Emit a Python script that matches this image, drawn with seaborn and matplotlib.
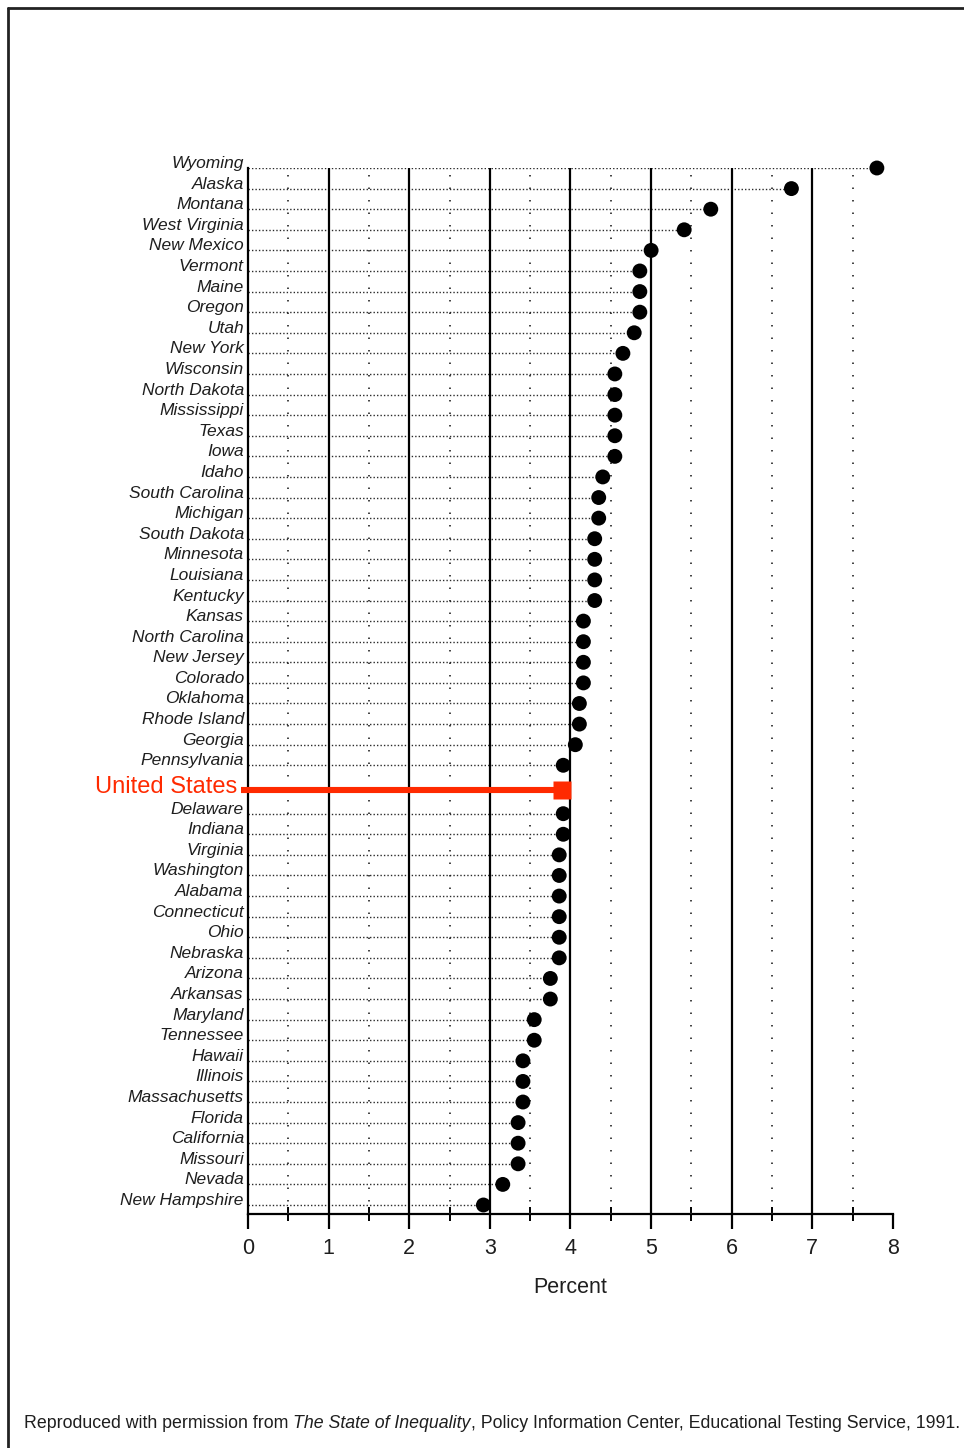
import numpy as np
import pandas as pd
import seaborn as sns
import matplotlib.pyplot as plt
from matplotlib.lines import Line2D
from matplotlib.ticker import MultipleLocator
from matplotlib.transforms import ScaledTranslation

##############################################################################
# Data (percent)
##############################################################################
STATES_ABOVE = [
    "Wyoming", "Alaska", "Montana", "West Virginia", "New Mexico", "Vermont",
    "Maine", "Oregon", "Utah", "New York", "Wisconsin", "North Dakota",
    "Mississippi", "Texas", "Iowa", "Idaho", "South Carolina", "Michigan",
    "South Dakota", "Minnesota", "Louisiana", "Kentucky", "Kansas",
    "North Carolina", "New Jersey", "Colorado", "Oklahoma", "Rhode Island",
    "Georgia", "Pennsylvania",
]
PCT_ABOVE = [
    7.80, 6.74, 5.74, 5.41, 5.00, 4.86,
    4.86, 4.86, 4.79, 4.65, 4.55, 4.55,
    4.55, 4.55, 4.55, 4.40, 4.35, 4.35,
    4.30, 4.30, 4.30, 4.30, 4.16,
    4.16, 4.16, 4.16, 4.11, 4.11,
    4.06, 3.91,
]
STATES_BELOW = [
    "Delaware", "Indiana", "Virginia", "Washington", "Alabama", "Connecticut",
    "Ohio", "Nebraska", "Arizona", "Arkansas", "Maryland", "Tennessee",
    "Hawaii", "Illinois", "Massachusetts", "Florida", "California",
    "Missouri", "Nevada", "New Hampshire",
]
PCT_BELOW = [
    3.91, 3.91, 3.86, 3.86, 3.86, 3.86,
    3.86, 3.86, 3.75, 3.75, 3.55, 3.55,
    3.41, 3.41, 3.41, 3.35, 3.35,
    3.35, 3.16, 2.92,
]
US_LABEL = "United States"
US_PCT = 3.9
X_TICKS = [0, 1, 2, 3, 4, 5, 6, 7, 8]

##############################################################################
# Layout
##############################################################################
W, H = 964, 1448
US_GAP = 0.35            # extra room around the US row
RED = "#ff2a00"
INK = "#1e1e1e"

pos_above = np.arange(len(STATES_ABOVE), dtype=float)
us_pos = pos_above[-1] + 1 + US_GAP * 0.6
pos_below = pos_above[-1] + 2 + US_GAP + np.arange(len(STATES_BELOW))

df = pd.DataFrame({
    "state": STATES_ABOVE + STATES_BELOW,
    "pct": PCT_ABOVE + PCT_BELOW,
    "pos": np.concatenate([pos_above, pos_below]),
})

sns.set_style("white")
plt.rcParams["font.family"] = ["Liberation Sans", "DejaVu Sans"]

fig = plt.figure(figsize=(W / 100, H / 100), dpi=100)
ax = fig.add_axes([248 / W, 1 - 1214 / H, (893 - 248) / W, (1214 - 168) / H])

# leader lines
ax.hlines(df["pos"], 0, df["pct"], color="#2a2a2a", lw=1.0,
          linestyles=[(0, (1.0, 1.5))], zorder=2)

# grid: solid at integers, sparse dots at halves
for v in X_TICKS[1:-1]:
    ax.axvline(v, color="black", lw=1.6, zorder=3)
for v in np.arange(0.5, 8, 1.0):
    ax.axvline(v, color="#222222", lw=1.2, ls=(0, (0.9, 6.6)), zorder=3)

sns.scatterplot(data=df, x="pct", y="pos", s=115, color="black",
                edgecolor="none", ax=ax, zorder=5, clip_on=False, legend=False)

# United States bar
ax.plot([-0.09, US_PCT], [us_pos, us_pos], color=RED, lw=4.4,
        solid_capstyle="butt", clip_on=False, zorder=6)
ax.plot([US_PCT], [us_pos], marker="s", ms=12.5, color=RED, mec="none",
        clip_on=False, zorder=6)
ax.text(-0.13, us_pos, US_LABEL, color=RED, fontsize=17, ha="right",
        va="center", clip_on=False,
        transform=ax.transData + ScaledTranslation(0, 3 / 100,
                                                   fig.dpi_scale_trans))

ax.set_xlim(0, 8)
ax.set_ylim(df["pos"].max() + 9 / 20.6, 0)
ax.set_yticks(df["pos"], df["state"])
ax.tick_params(axis="y", length=0, pad=3, labelsize=12.5, labelcolor=INK)
for lbl in ax.get_yticklabels():
    lbl.set_fontstyle("italic")
    lbl.set_verticalalignment("baseline")

ax.set_xticks(X_TICKS)
ax.xaxis.set_minor_locator(MultipleLocator(0.5))
ax.tick_params(axis="x", which="major", direction="out", length=11,
               width=1.6, color="black", labelsize=15.5, pad=6,
               labelcolor=INK, bottom=True)
ax.tick_params(axis="x", which="minor", direction="inout", length=10,
               width=1.4, color="black", bottom=True)
ax.set_xlabel("Percent", fontsize=15.5, color=INK, labelpad=13)
ax.set_ylabel("")

sns.despine(ax=ax, top=True, right=True)
for side in ("left", "bottom"):
    ax.spines[side].set_color("black")
    ax.spines[side].set_linewidth(1.6)
ax.grid(False)

# page frame (top and left edges)
fig.add_artist(Line2D([8 / W, 8 / W], [0, 1 - 8 / H], color="#222222",
                      lw=2.0, transform=fig.transFigure))
fig.add_artist(Line2D([8 / W, 1], [1 - 8 / H, 1 - 8 / H], color="#222222",
                      lw=2.0, transform=fig.transFigure))

# source note, italic title in the middle
NOTE_SIZE = 12.8
t1 = fig.text(24 / W, 1 - 1423 / H, "Reproduced with permission from ",
              fontsize=NOTE_SIZE, color=INK, va="center")
t2 = ax.annotate("The State of Inequality", xy=(1, 0), xycoords=t1,
                 fontsize=NOTE_SIZE, color=INK, style="italic", va="bottom",
                 annotation_clip=False)
ax.annotate(", Policy Information Center, Educational Testing Service, 1991.",
            xy=(1, 0), xycoords=t2, fontsize=NOTE_SIZE, color=INK,
            va="bottom", annotation_clip=False)

fig.savefig("out.png", dpi=100)
plt.close(fig)
